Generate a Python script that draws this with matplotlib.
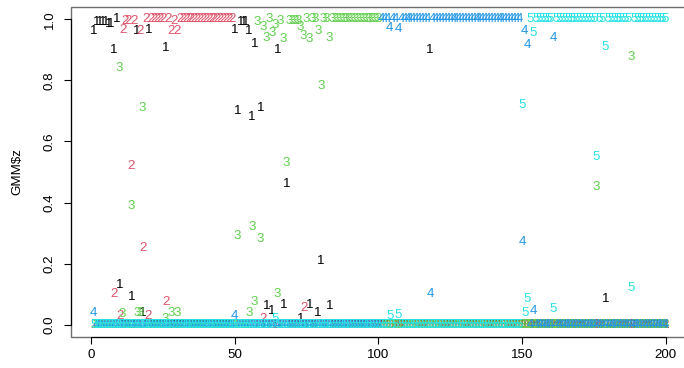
import matplotlib
matplotlib.use("Agg")
import matplotlib.pyplot as plt
from matplotlib.patches import Rectangle

plt.rcParams['font.family'] = ['Liberation Sans', 'DejaVu Sans']

obs = list(range(1, 201))

c1 = [.96, .99, .99, .99, .99, .985, .985, .90, 1, .13, 0, 0, 0, .09, 0, .96, 0, .04, 0, .965,
      0, 0, 0, 0, 0, .905, 0, 0, 0, 0, 0, 0, 0, 0, 0, 0, 0, 0, 0, 0,
      0, 0, 0, 0, 0, 0, 0, 0, 0, .965, .70, .99, .99, .99, .96, .68, .92, 0, .71, 0,
      .06, 0, .045, 0, .90, 0, .065, .46, 0, 0, 0, 0, .02, 0, 0, .065, 0, 0, .04, .21,
      0, 0, .06, 0, 0, 0, 0, 0, 0, 0, 0, 0, 0, 0, 0, 0, 0, 0, 0, 0,
      0, 0, 0, 0, 0, 0, 0, 0, 0, 0, 0, 0, 0, 0, 0, 0, 0, .90, 0, 0,
      0, 0, 0, 0, 0, 0, 0, 0, 0, 0, 0, 0, 0, 0, 0, 0, 0, 0, 0, 0,
      0, 0, 0, 0, 0, 0, 0, 0, 0, 0, 0, 0, 0, 0, 0, 0, 0, 0, 0, 0,
      0, 0, 0, 0, 0, 0, 0, 0, 0, 0, 0, 0, 0, 0, 0, 0, 0, 0, .085, 0,
      0, 0, 0, 0, 0, 0, 0, 0, 0, 0, 0, 0, 0, 0, 0, 0, 0, 0, 0, 0]

c2 = [0, 0, 0, 0, 0, 0, 0, .10, 0, .03, .965, .995, .995, .52, .995, 0, .96, .25, 1, .03,
      1, 1, 1, 1, 1, .075, 1, .96, .995, .96, 1, 1, 1, 1, 1, 1, 1, 1, 1, 1,
      1, 1, 1, 1, 1, 1, 1, 1, 1, 0, 0, 0, 0, 0, 0, 0, 0, 0, 0, .02,
      0, 0, 0, 0, 0, 0, 0, 0, 0, 0, 0, 0, 0, .055, 0, 0, 0, 0, 0, 0,
      0, 0, 0, 0, 0, 0, 0, 0, 0, 0, 0, 0, 0, 0, 0, 0, 0, 0, 0, 0,
      0, 0, 0, 0, 0, 0, 0, 0, 0, 0, 0, 0, 0, 0, 0, 0, 0, 0, 0, 0,
      0, 0, 0, 0, 0, 0, 0, 0, 0, 0, 0, 0, 0, 0, 0, 0, 0, 0, 0, 0,
      0, 0, 0, 0, 0, 0, 0, 0, 0, 0, 0, 0, 0, 0, 0, 0, 0, 0, 0, 0,
      0, 0, 0, 0, 0, 0, 0, 0, 0, 0, 0, 0, 0, 0, 0, 0, 0, 0, 0, 0,
      0, 0, 0, 0, 0, 0, 0, 0, 0, 0, 0, 0, 0, 0, 0, 0, 0, 0, 0, 0]

c3 = [0, 0, 0, 0, 0, 0, 0, 0, 0, .84, .035, 0, 0, .39, 0, .04, .04, .71, 0, 0,
      0, 0, 0, 0, 0, .02, 0, .04, 0, .04, 0, 0, 0, 0, 0, 0, 0, 0, 0, 0,
      0, 0, 0, 0, 0, 0, 0, 0, 0, 0, .29, 0, 0, 0, .04, .32, .075, .99, .28, .975,
      .94, 1, .955, .98, .10, .995, .935, .53, .995, .995, .995, .995, .975, .945, 1, .935, 1, 1, .96, .78,
      1, 1, .94, 1, 1, 1, 1, 1, 1, 1, 1, 1, 1, 1, 1, 1, 1, 1, 1, 1,
      0, 0, 0, 0, 0, 0, 0, 0, 0, 0, 0, 0, 0, 0, 0, 0, 0, 0, 0, 0,
      0, 0, 0, 0, 0, 0, 0, 0, 0, 0, 0, 0, 0, 0, 0, 0, 0, 0, 0, 0,
      0, 0, 0, 0, 0, 0, 0, 0, 0, 0, 0, 0, 0, 0, 0, 0, 0, 0, 0, 0,
      0, 0, 0, 0, 0, 0, 0, 0, 0, 0, 0, 0, 0, 0, 0, .45, 0, 0, 0, 0,
      0, 0, 0, 0, 0, 0, 0, .875, 0, 0, 0, 0, 0, 0, 0, 0, 0, 0, 0, 0]

c4 = [.04, 0, 0, 0, 0, 0, 0, 0, 0, 0, 0, 0, 0, 0, 0, 0, 0, 0, 0, 0,
      0, 0, 0, 0, 0, 0, 0, 0, 0, 0, 0, 0, 0, 0, 0, 0, 0, 0, 0, 0,
      0, 0, 0, 0, 0, 0, 0, 0, 0, .03, 0, 0, 0, 0, 0, 0, 0, 0, 0, 0,
      0, 0, 0, 0, 0, 0, 0, 0, 0, 0, 0, 0, 0, 0, 0, 0, 0, 0, 0, 0,
      0, 0, 0, 0, 0, 0, 0, 0, 0, 0, 0, 0, 0, 0, 0, 0, 0, 0, 0, 0,
      1, 1, 1, .97, 1, 1, .967, 1, 1, 1, 1, 1, 1, 1, 1, 1, 1, .10, 1, 1,
      1, 1, 1, 1, 1, 1, 1, 1, 1, 1, 1, 1, 1, 1, 1, 1, 1, 1, 1, 1,
      1, 1, 1, 1, 1, 1, 1, 1, 1, .27, .96, .915, 0, .044, 0, 0, 0, 0, 0, 0,
      .94, 0, 0, 0, 0, 0, 0, 0, 0, 0, 0, 0, 0, 0, 0, 0, 0, 0, 0, 0,
      0, 0, 0, 0, 0, 0, 0, 0, 0, 0, 0, 0, 0, 0, 0, 0, 0, 0, 0, 0]

c5 = [0, 0, 0, 0, 0, 0, 0, 0, 0, 0, 0, 0, 0, 0, 0, 0, 0, 0, 0, 0,
      0, 0, 0, 0, 0, 0, 0, 0, 0, 0, 0, 0, 0, 0, 0, 0, 0, 0, 0, 0,
      0, 0, 0, 0, 0, 0, 0, 0, 0, 0, 0, 0, 0, 0, 0, 0, 0, 0, 0, 0,
      0, 0, 0, .02, 0, 0, 0, 0, 0, 0, 0, 0, 0, 0, 0, 0, 0, 0, 0, 0,
      0, 0, 0, 0, 0, 0, 0, 0, 0, 0, 0, 0, 0, 0, 0, 0, 0, 0, 0, 0,
      0, 0, 0, .03, 0, 0, .033, 0, 0, 0, 0, 0, 0, 0, 0, 0, 0, 0, 0, 0,
      0, 0, 0, 0, 0, 0, 0, 0, 0, 0, 0, 0, 0, 0, 0, 0, 0, 0, 0, 0,
      0, 0, 0, 0, 0, 0, 0, 0, 0, .72, .04, .084, 1, .955, 1, 1, 1, 1, 1, 1,
      .05, 1, 1, 1, 1, 1, 1, 1, 1, 1, 1, 1, 1, 1, 1, .55, 1, 1, .91, 1,
      1, 1, 1, 1, 1, 1, 1, .12, 1, 1, 1, 1, 1, 1, 1, 1, 1, 1, 1, 1]

series = [c1, c2, c3, c4, c5]
symbols = ["1", "2", "3", "4", "5"]
colors = ["#000000", "#DF536B", "#61D04F", "#2297E6", "#28E2E5"]

x_ticks = [0, 50, 100, 150, 200]
y_ticks = [0.0, 0.2, 0.4, 0.6, 0.8, 1.0]
y_ticklabels = ["0.0", "0.2", "0.4", "0.6", "0.8", "1.0"]
y_label = "GMM$z"

fig = plt.figure(figsize=(6.84, 3.68), dpi=100)
ax = fig.add_axes([71 / 684, 31 / 368, 617.4 / 684, 330 / 368])

for vals, sym, col in zip(series, symbols, colors):
    for xi, yi in zip(obs, vals):
        ax.text(xi, yi, sym, color=col, fontsize=9.6, ha='center', va='center')

ax.set_xlim(1 - 0.04 * 199, 200 + 0.04 * 199)
ax.set_ylim(-0.04, 1.04)

for s in ax.spines.values():
    s.set_visible(False)
ax.add_patch(Rectangle((0, 0), 1, 1, transform=ax.transAxes, fill=False,
                       edgecolor='#6e6e6e', lw=1.0, clip_on=False))
ax.spines['left'].set_visible(True)
ax.spines['bottom'].set_visible(True)
ax.spines['left'].set_bounds(0, 1)
ax.spines['bottom'].set_bounds(0, 200)
ax.spines['left'].set_color('black')
ax.spines['bottom'].set_color('black')
ax.spines['left'].set_linewidth(0.8)
ax.spines['bottom'].set_linewidth(0.8)

ax.set_xticks(x_ticks)
ax.set_yticks(y_ticks)
ax.set_yticklabels(y_ticklabels, rotation=90, va='center')
ax.tick_params(direction='out', length=5, width=0.8, colors='black', labelsize=9.6)
ax.tick_params(axis='x', pad=4)
ax.tick_params(axis='y', pad=6)
ax.set_ylabel(y_label, fontsize=9.6, labelpad=15)

fig.savefig("out.png", dpi=100)
